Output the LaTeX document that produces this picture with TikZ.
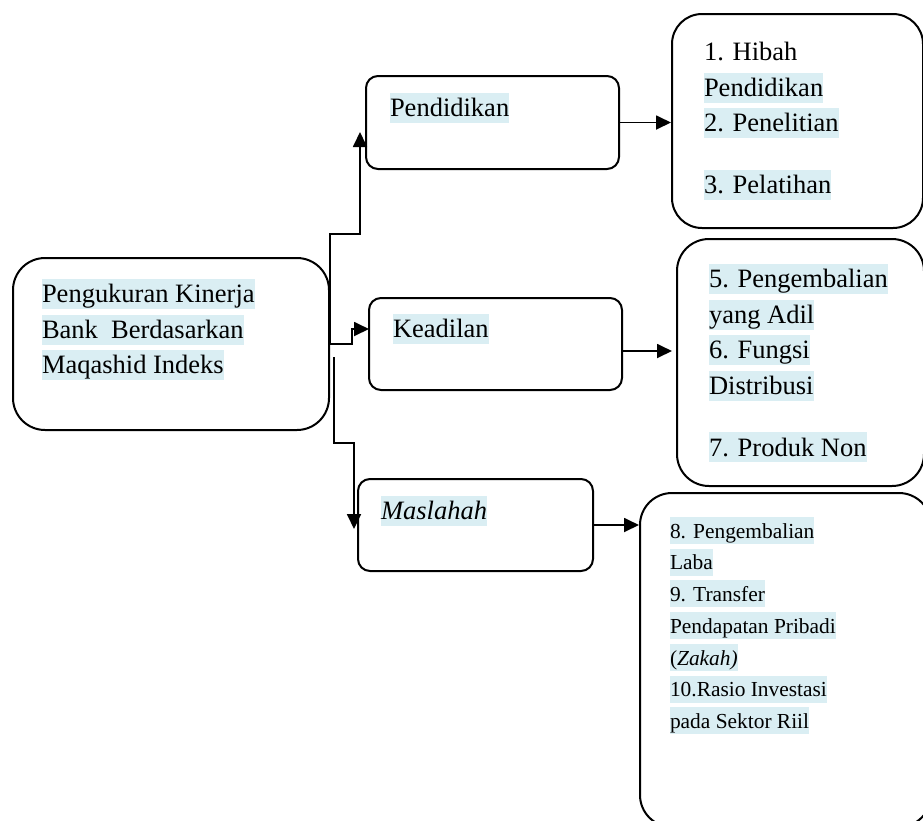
\documentclass[tikz,border=0pt]{standalone}
\usepackage{fontspec}
\setmainfont{Liberation Serif}
\usepackage{tikz}
\usetikzlibrary{arrows.meta,positioning,calc}
\definecolor{maqHl}{HTML}{DAEEF3}
\newcommand{\hlstrut}{\rule[-3.2pt]{0pt}{15pt}}
\newcommand{\mqhl}[1]{{\setlength{\fboxsep}{0pt}\colorbox{maqHl}{\hlstrut#1}}}
\newcommand{\mqno}[1]{{\hlstrut#1}}

\begin{document}
\begin{tikzpicture}[x=0.5pt,y=-0.5pt,line width=1pt,
   box/.style={draw,anchor=north west,inner sep=0pt},
   txt/.style={anchor=north west,align=left,inner sep=0pt,
               font=\fontsize{13.25}{17.8}\selectfont},
   small/.style={font=\fontsize{10.7}{15.85}\selectfont\def\hlstrut{\rule[-2.9pt]{0pt}{13.5pt}}},
   arr/.style={-{Triangle[length=7.5pt,width=7pt]},line width=0.9pt}]
  \useasboundingbox (0,0) rectangle (923,821);
  \clip (0,0) rectangle (923,821);

  \node[box,minimum width=158pt,minimum height=86pt,rounded corners=16pt] (main) at (12,257) {};
  \node[box,minimum width=126.5pt,minimum height=46.5pt,rounded corners=6pt] (pend) at (365,75) {};
  \node[box,minimum width=126.5pt,minimum height=46pt,rounded corners=6pt] (kead) at (368,297) {};
  \node[box,minimum width=117.5pt,minimum height=46pt,rounded corners=6pt] (masl) at (357,478) {};
  \node[box,minimum width=125.5pt,minimum height=107pt,rounded corners=15pt] (list1) at (671,13) {};
  \node[box,minimum width=123.5pt,minimum height=123.5pt,rounded corners=16pt] (list2) at (676,238) {};
  \node[box,minimum width=145.5pt,minimum height=167pt,rounded corners=16pt] (list3) at (639,492) {};

  \node[txt] (mainT) at (41,278) {\mqhl{Pengukuran Kinerja}\\ \mqhl{Bank\ \ Berdasarkan}\\ \mqhl{Maqashid Indeks}};
  \node[txt] (pendT) at (389,92) {\mqhl{Pendidikan}};
  \node[txt] (keadT) at (392,313) {\mqhl{Keadilan}};
  \node[txt] (maslT) at (380,495) {\mqhl{\textit{Maslahah}}};
  \node[txt] (list1T) at (703,36) {\mqno{1. Hibah}\\ \mqhl{Pendidikan}\\ \mqhl{2. Penelitian}\\[13pt] \mqhl{3. Pelatihan}};
  \node[txt] (list2T) at (708,263) {\mqhl{5. Pengembalian}\\ \mqhl{yang Adil}\\ \mqhl{6. Fungsi}\\ \mqhl{Distribusi}\\[13pt] \mqhl{7. Produk Non}};
  \node[txt,small] (list3T) at (669,516) {\mqhl{8. Pengembalian}\\ \mqhl{Laba}\\ \mqhl{9. Transfer}\\ \mqhl{Pendapatan Pribadi}\\ \mqhl{(\textit{Zakah)}}\\ \mqhl{10.Rasio Investasi}\\ \mqhl{pada Sektor Riil}};

  \coordinate (pendin) at ($(pend.west)+(-5,9.5)$);
  \coordinate (keadin) at ($(kead.west)+(1,-15)$);
  \coordinate (maslin) at ($(masl.west)+(-3,4)$);
  \coordinate (mainlow) at ($(main.east)+(4,13)$);
  \coordinate (l2in) at ($(list2.west)+(-4,-11.5)$);

  \draw[arr] (main.east) -- ++(0,-110) -| (pendin);
  \draw[arr] (main.east) -- ++(22,0) |- (keadin);
  \draw[arr] (mainlow) -- ++(0,86) -| (maslin);
  \draw[arr] (pend.east) -- (pend.east -| list1.west);
  \draw[arr] (l2in -| kead.east) -- (l2in);
  \draw[arr] (masl.east) -- (masl.east -| list3.west);
\end{tikzpicture}
\end{document}
